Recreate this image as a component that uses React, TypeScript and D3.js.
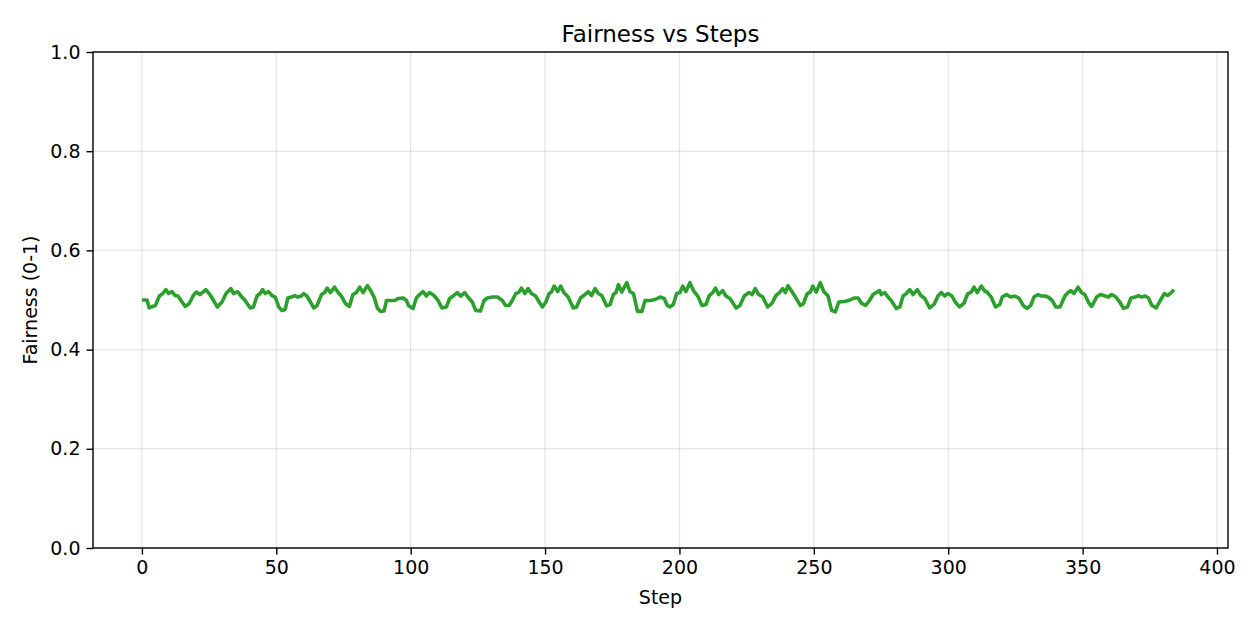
import { useEffect, useRef } from "react";
import * as d3 from "d3";

// points, step -> fairness
const steps = [
    0, 1.9, 2.7, 4.0, 5.0, 6.5, 7.7, 8.9, 9.9, 11.2, 12.4, 13.4, 16.1, 17.6, 19.1, 20.3, 21.6, 23.8, 25.3, 28.1,
    29.8, 31.3, 33.1, 34.1, 35.6, 37.2, 38.4, 40.3, 41.5, 42.8, 44.0, 44.9, 45.9, 47.1, 48.4, 49.6, 50.9, 52.1, 53.3, 54.3,
    55.6, 56.8, 58.0, 59.3, 60.2, 61.4, 62.7, 63.9, 65.2, 66.8, 68.0, 68.9, 70.1, 71.7, 73.0, 74.2, 75.7, 77.2, 78.5, 79.8,
    81.0, 82.3, 83.9, 85.1, 86.4, 87.6, 88.8, 90.1, 91.0, 92.2, 94.1, 95.3, 97.2, 98.4, 99.3, 100.9, 102.1, 103.3, 104.6, 105.8,
    107.0, 108.7, 110.2, 111.6, 113.3, 114.5, 116.1, 117.3, 118.6, 120.1, 121.3, 122.9, 124.2, 126.0, 127.3, 128.5, 130.4, 132.3, 134.1, 135.3,
    136.6, 137.8, 139.1, 140.3, 141.2, 142.5, 143.7, 144.9, 146.5, 147.8, 149.0, 150.3, 151.5, 152.4, 153.4, 154.7, 155.8, 157.0, 158.6, 160.5,
    161.7, 163.2, 164.8, 166.1, 167.3, 168.6, 169.8, 171.1, 172.9, 174.2, 175.4, 176.4, 177.3, 178.5, 180.4, 181.6, 182.9, 184.4, 186.0, 187.2,
    189.1, 191.0, 192.8, 194.3, 195.5, 196.5, 197.7, 199.0, 200.2, 201.2, 202.4, 203.9, 205.2, 206.8, 208.4, 209.9, 211.1, 212.4, 213.4, 214.6,
    216.1, 217.3, 218.8, 221.1, 222.5, 224.1, 225.8, 227.0, 228.2, 229.5, 231.0, 232.8, 234.4, 235.9, 237.2, 238.4, 239.4, 240.4, 241.6, 242.9,
    245.0, 246.2, 247.5, 248.7, 249.6, 250.9, 252.4, 253.7, 255.3, 256.6, 258.0, 259.3, 261.2, 263.0, 264.9, 266.5, 267.8, 269.3, 270.7, 272.0,
    273.2, 274.5, 275.1, 276.4, 277.3, 278.8, 280.7, 282.0, 283.2, 284.4, 285.7, 286.9, 288.5, 289.8, 291.3, 293.1, 294.7, 296.2, 297.4, 298.7,
    299.9, 301.4, 302.6, 304.2, 305.8, 307.3, 308.6, 309.6, 310.8, 312.3, 313.8, 314.5, 316.0, 317.6, 319.2, 320.1, 321.7, 323.2, 324.7, 326.3,
    327.9, 329.4, 330.7, 331.9, 333.4, 334.7, 335.9, 337.1, 338.7, 340.0, 341.6, 343.4, 344.6, 345.6, 346.8, 348.3, 349.6, 350.8, 352.4, 353.3,
    354.0, 355.2, 356.7, 358.4, 359.6, 360.8, 362.4, 363.7, 365.2, 366.7, 368.0, 369.6, 370.8, 372.0, 373.3, 374.5, 375.8, 377.4, 378.9, 380.4,
    381.6, 383.2, 384,
];

const fairness = [
    0.500, 0.500, 0.484, 0.487, 0.489, 0.508, 0.513, 0.521, 0.513, 0.517, 0.509, 0.508, 0.487, 0.493, 0.509, 0.516, 0.511, 0.521, 0.511, 0.486,
    0.496, 0.513, 0.523, 0.513, 0.517, 0.506, 0.499, 0.484, 0.486, 0.508, 0.513, 0.521, 0.513, 0.517, 0.509, 0.506, 0.486, 0.479, 0.481, 0.504,
    0.506, 0.509, 0.506, 0.508, 0.513, 0.508, 0.496, 0.484, 0.489, 0.511, 0.515, 0.524, 0.515, 0.526, 0.515, 0.508, 0.493, 0.487, 0.511, 0.515,
    0.526, 0.515, 0.529, 0.519, 0.506, 0.484, 0.477, 0.478, 0.499, 0.499, 0.499, 0.503, 0.504, 0.499, 0.488, 0.483, 0.504, 0.511, 0.517, 0.508,
    0.515, 0.509, 0.499, 0.484, 0.486, 0.503, 0.509, 0.515, 0.508, 0.515, 0.506, 0.496, 0.479, 0.478, 0.499, 0.504, 0.506, 0.506, 0.499, 0.489,
    0.489, 0.499, 0.513, 0.516, 0.524, 0.513, 0.523, 0.513, 0.508, 0.496, 0.486, 0.496, 0.513, 0.516, 0.528, 0.517, 0.528, 0.515, 0.506, 0.484,
    0.486, 0.504, 0.511, 0.517, 0.509, 0.523, 0.513, 0.509, 0.488, 0.491, 0.511, 0.515, 0.531, 0.516, 0.535, 0.517, 0.513, 0.477, 0.477, 0.499,
    0.499, 0.501, 0.506, 0.503, 0.489, 0.486, 0.491, 0.513, 0.515, 0.528, 0.517, 0.535, 0.519, 0.508, 0.489, 0.491, 0.509, 0.515, 0.524, 0.511,
    0.519, 0.508, 0.503, 0.484, 0.489, 0.508, 0.515, 0.511, 0.523, 0.511, 0.506, 0.486, 0.493, 0.509, 0.515, 0.523, 0.515, 0.529, 0.519, 0.508,
    0.489, 0.493, 0.513, 0.516, 0.528, 0.516, 0.535, 0.517, 0.508, 0.479, 0.476, 0.496, 0.497, 0.499, 0.504, 0.504, 0.493, 0.489, 0.499, 0.511,
    0.515, 0.519, 0.511, 0.515, 0.508, 0.499, 0.483, 0.486, 0.508, 0.513, 0.521, 0.511, 0.521, 0.509, 0.503, 0.484, 0.491, 0.508, 0.515, 0.508,
    0.513, 0.508, 0.496, 0.486, 0.493, 0.513, 0.516, 0.526, 0.515, 0.528, 0.517, 0.516, 0.506, 0.486, 0.491, 0.506, 0.511, 0.506, 0.508, 0.504,
    0.489, 0.483, 0.489, 0.506, 0.511, 0.508, 0.508, 0.506, 0.499, 0.486, 0.486, 0.508, 0.515, 0.519, 0.513, 0.526, 0.515, 0.511, 0.493, 0.487,
    0.493, 0.506, 0.511, 0.508, 0.506, 0.511, 0.506, 0.497, 0.483, 0.486, 0.504, 0.506, 0.509, 0.506, 0.508, 0.504, 0.489, 0.484, 0.499, 0.513,
    0.509, 0.516, 0.521,
];

const xTicks = [0, 50, 100, 150, 200, 250, 300, 350, 400];
const yTicks = [0, 0.2, 0.4, 0.6, 0.8, 1.0];

const W = 1260;
const H = 630;
const margin = { top: 52, right: 32, bottom: 82, left: 93 };
const font = "DejaVu Sans";

const App = () => {
    const svgRef = useRef<SVGSVGElement>(null);

    useEffect(() => {
        if (!svgRef.current) return;
        const svg = d3.select(svgRef.current);
        svg.selectAll("*").remove();

        const innerWidth = W - margin.left - margin.right;
        const innerHeight = H - margin.top - margin.bottom;

        const xScale = d3.scaleLinear().domain([-18.2, 404.1]).range([0, innerWidth]);
        const yScale = d3.scaleLinear().domain([0, 1]).range([innerHeight, 0]);

        const g = svg.append("g").attr("transform", `translate(${margin.left},${margin.top})`);

        // grid
        g.append("g")
            .selectAll("line")
            .data(xTicks)
            .enter()
            .append("line")
            .attr("x1", d => xScale(d))
            .attr("x2", d => xScale(d))
            .attr("y1", 0)
            .attr("y2", innerHeight)
            .attr("stroke", "#b0b0b0")
            .attr("stroke-opacity", 0.3)
            .attr("stroke-width", 1.4);

        g.append("g")
            .selectAll("line")
            .data(yTicks)
            .enter()
            .append("line")
            .attr("x1", 0)
            .attr("x2", innerWidth)
            .attr("y1", d => yScale(d))
            .attr("y2", d => yScale(d))
            .attr("stroke", "#b0b0b0")
            .attr("stroke-opacity", 0.3)
            .attr("stroke-width", 1.4);

        const line = d3.line<number>()
            .x((_, i) => xScale(steps[i]))
            .y(d => yScale(d));

        g.append("path")
            .datum(fairness)
            .attr("fill", "none")
            .attr("stroke", "#2ca02c")
            .attr("stroke-width", 3.6)
            .attr("stroke-linejoin", "round")
            .attr("d", line);

        const xAxis = g.append("g")
            .attr("transform", `translate(0,${innerHeight})`)
            .call(d3.axisBottom(xScale).tickValues(xTicks).tickSize(6.5).tickPadding(6).tickFormat(d3.format("d")));

        const yAxis = g.append("g")
            .call(d3.axisLeft(yScale).tickValues(yTicks).tickSize(6.5).tickPadding(6).tickFormat(d3.format(".1f")));

        [xAxis, yAxis].forEach(ax => {
            ax.select(".domain").remove();
            ax.selectAll(".tick line").attr("stroke", "#000").attr("stroke-width", 1.4);
            ax.selectAll(".tick text")
                .attr("fill", "#000")
                .style("font-family", font)
                .style("font-size", "19px");
        });

        // frame
        g.append("rect")
            .attr("x", 0)
            .attr("y", 0)
            .attr("width", innerWidth)
            .attr("height", innerHeight)
            .attr("fill", "none")
            .attr("stroke", "#000")
            .attr("stroke-width", 1.4);

        svg.append("text")
            .attr("x", margin.left + innerWidth / 2)
            .attr("y", 42)
            .attr("text-anchor", "middle")
            .style("font-family", font)
            .style("font-size", "23px")
            .text("Fairness vs Steps");

        svg.append("text")
            .attr("x", margin.left + innerWidth / 2)
            .attr("y", 604)
            .attr("text-anchor", "middle")
            .style("font-family", font)
            .style("font-size", "19px")
            .text("Step");

        svg.append("text")
            .attr("transform", `translate(37,${margin.top + innerHeight / 2}) rotate(-90)`)
            .attr("text-anchor", "middle")
            .style("font-family", font)
            .style("font-size", "19px")
            .text("Fairness (0-1)");
    }, []);

    return (
        <svg
            ref={svgRef}
            width={W}
            height={H}
            style={{ position: "absolute", left: 0, top: 0, background: "#fff" }}
        />
    );
};

export default App;
